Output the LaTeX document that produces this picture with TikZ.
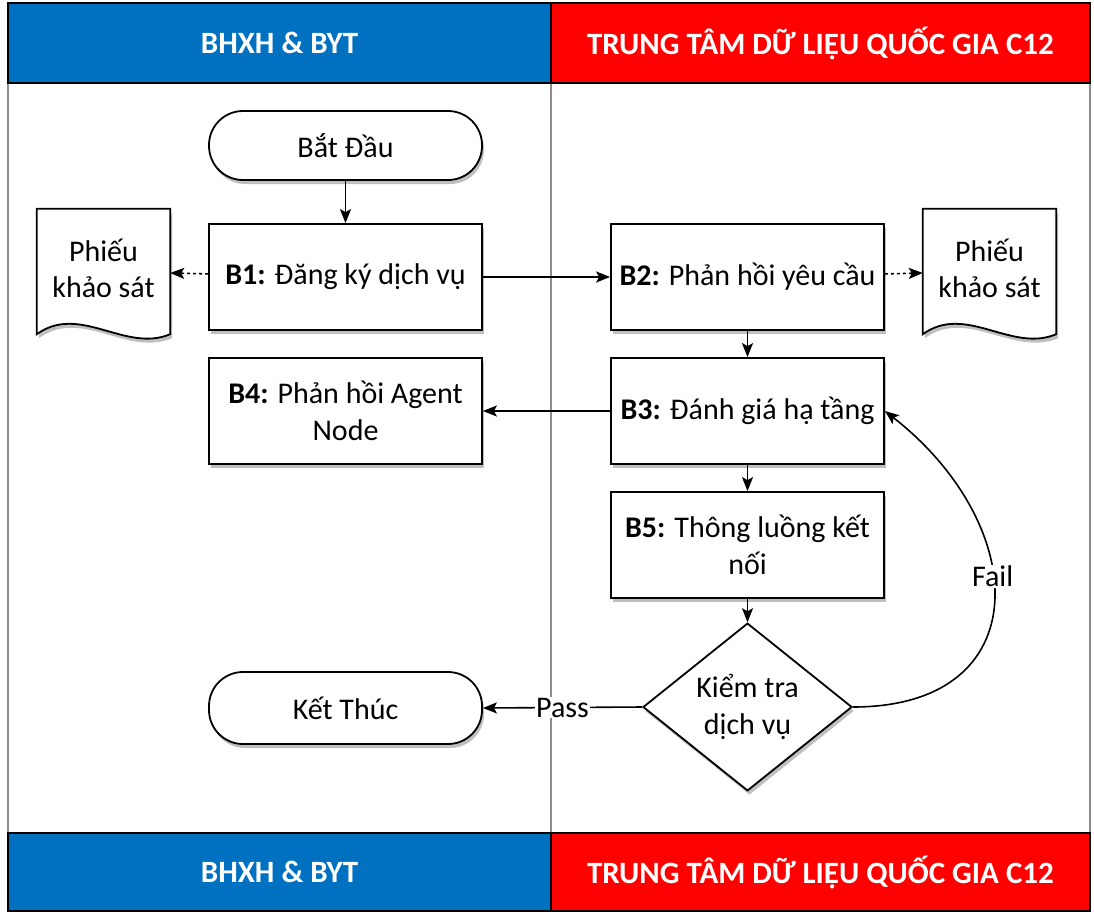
\documentclass[tikz,border=0pt]{standalone}
\usepackage{fontspec}
\setmainfont{Carlito}
\usetikzlibrary{shapes.geometric,arrows.meta,shadows}
\definecolor{hblue}{HTML}{0070C0}
\definecolor{hred}{HTML}{FF0000}
\definecolor{lanegray}{HTML}{8C8C8C}
\tikzset{
  shd/.style={drop shadow={shadow xshift=2pt,shadow yshift=-4pt,opacity=0.25,fill=black}},
  stepbox/.style={draw=black,line width=1.8pt,fill=white,minimum width=273pt,minimum height=106pt,
     align=center,inner sep=4pt,font=\fontsize{30pt}{37pt}\selectfont,shd},
  termbox/.style={stepbox,rounded corners=34pt},
  decbox/.style={diamond,draw=black,line width=1.8pt,fill=white,minimum width=209pt,minimum height=160pt,
     inner sep=0pt,align=center,font=\fontsize{30pt}{37pt}\selectfont,shd},
  txt/.style={align=center,font=\fontsize{30pt}{36pt}\selectfont,inner sep=0pt},
  hdr/.style={draw=black,line width=1.6pt,text=white,font=\bfseries\fontsize{31pt}{34pt}\selectfont},
  conn/.style={line width=1.6pt,-{Stealth[length=14pt,width=11pt,inset=3pt]}},
  dconn/.style={conn,dash pattern=on 3pt off 3pt},
  lbl/.style={fill=white,inner sep=1pt,font=\fontsize{30pt}{34pt}\selectfont},
  docbox/.style={minimum width=133pt,minimum height=125pt,inner sep=0pt},
  docshape/.style={draw=black,line width=1.8pt,fill=white,shd}
}
\begin{document}
\begin{tikzpicture}[x=1pt,y=-1pt]
\useasboundingbox (0,0) rectangle (1094,913);
\fill[white] (0,0) rectangle (1094,913);
% lanes
\draw[lanegray,line width=1.6pt] (8,83) -- (8,833);
\draw[lanegray,line width=1.6pt] (551,83) -- (551,833);
\draw[lanegray,line width=1.6pt] (1090,83) -- (1090,833);
% headers
\node[hdr,fill=hblue,minimum width=543pt,minimum height=80pt] (h1) at (279.5,43) {BHXH \& BYT};
\node[hdr,fill=hred,minimum width=539pt,minimum height=80pt] (h2) at (820.5,43) {TRUNG TÂM DỮ LIỆU QUỐC GIA C12};
\node[hdr,fill=hblue,minimum width=543pt,minimum height=78pt] (f1) at (279.5,872) {BHXH \& BYT};
\node[hdr,fill=hred,minimum width=539pt,minimum height=78pt] (f2) at (820.5,872) {TRUNG TÂM DỮ LIỆU QUỐC GIA C12};
% nodes
\node[termbox,minimum height=69pt] (start) at (345.5,145.5) {Bắt Đầu};
\node[stepbox] (b1) at (345.5,277) {\textbf{B1:} Đăng ký dịch vụ};
\node[stepbox] (b2) at (747.5,277) {\textbf{B2:} Phản hồi yêu cầu};
\node[stepbox] (b3) at (747.5,411) {\textbf{B3:} Đánh giá hạ tầng};
\node[stepbox] (b4) at (345.5,411) {\textbf{B4:} Phản hồi Agent\\Node};
\node[stepbox] (b5) at (747.5,545) {\textbf{B5:} Thông luồng kết\\nối};
\node[decbox] (chk) at (747.5,707) {Kiểm tra\\dịch vụ};
\node[termbox,minimum height=72pt] (kt) at (345.5,708) {Kết Thúc};
% documents
\node[docbox] (docL) at (103.5,271.5) {};
\draw[docshape] (docL.north west) -- (docL.north east) -- (docL.south east)
   .. controls ([xshift=-45pt,yshift=-19pt]docL.south east) and ([xshift=43pt,yshift=31pt]docL.south west) .. (docL.south west) -- cycle;
\node[txt] (docLt) at (103.5,268) {Phiếu\\khảo sát};
\node[docbox] (docR) at (989.5,271.5) {};
\draw[docshape] (docR.north west) -- (docR.north east) -- (docR.south east)
   .. controls ([xshift=-45pt,yshift=-19pt]docR.south east) and ([xshift=43pt,yshift=31pt]docR.south west) .. (docR.south west) -- cycle;
\node[txt] (docRt) at (989.5,268) {Phiếu\\khảo sát};
% connectors
\draw[conn] (start) -- (b1);
\draw[conn] (b1) -- (b2);
\draw[dconn] (b1) -- (docL);
\draw[dconn] (b2) -- (docR);
\draw[conn] (b2) -- (b3);
\draw[conn] (b3) -- (b4);
\draw[conn] (b3) -- (b5);
\draw[conn] (b5) -- (chk);
\draw[conn] (chk.west) -- node[lbl] (pass) {Pass} (kt.east);
\draw[conn] (chk.east) to[out=0,in=-38,looseness=1.6] node[lbl,pos=0.57] (fail) {Fail} (b3.east);
\end{tikzpicture}
\end{document}
